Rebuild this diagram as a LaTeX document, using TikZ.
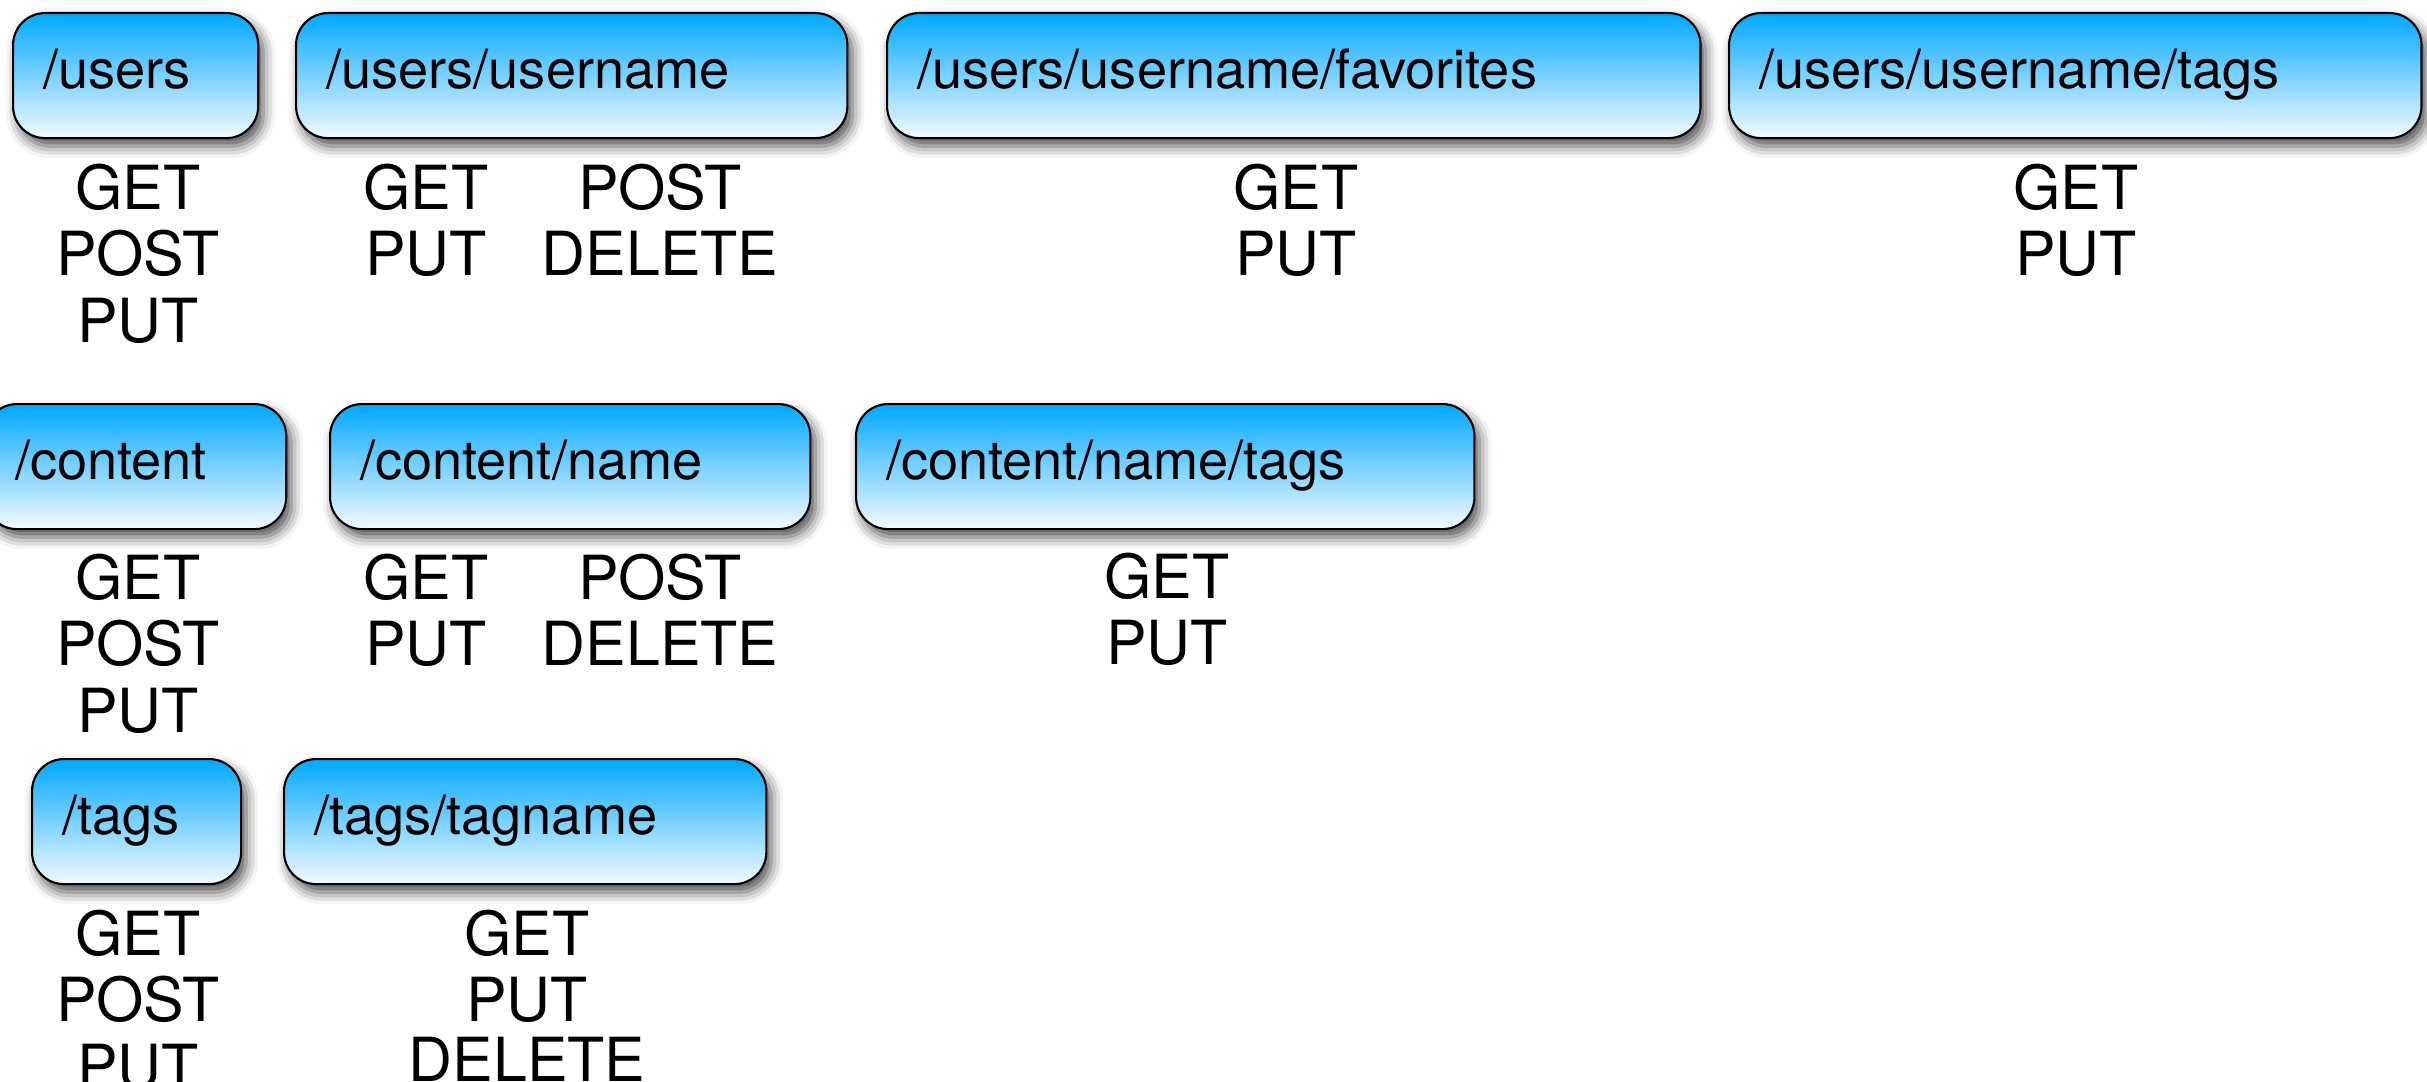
\documentclass[tikz,border=0pt]{standalone}
\usepackage{fontspec}
\setmainfont{TeX Gyre Heros}
\usetikzlibrary{shadows.blur}
\definecolor{boxtop}{RGB}{0,168,255}
\definecolor{boxbot}{RGB}{244,250,255}
\newcommand\pathfont{\fontsize{15.4}{18}\selectfont}
\newcommand\methodfont{\fontsize{17.3}{18.9}\selectfont}

\begin{document}
\begin{tikzpicture}[x=0.01cm, y=-0.01cm]
\tikzset{resource/.style={draw=black, line width=0.6pt, rounded corners=0.32cm,
    top color=boxtop, bottom color=boxbot, anchor=north west,
    inner xsep=0.3cm, inner ysep=0pt, text height=0.75cm, text depth=0.5cm,
    text width=#1, align=left, font=\pathfont,
    blur shadow={shadow xshift=0.05cm, shadow yshift=-0.08cm, shadow blur radius=0.12cm, shadow opacity=70}},
  methods/.style={anchor=north, inner sep=0pt, align=center, font=\methodfont}}
\useasboundingbox (0,0) rectangle (2427,1082);
\node[resource=1.85cm] (users) at (12,12) {/users};
\node[resource=4.91cm] (uname) at (295,12) {/users/username};
\node[resource=7.53cm] (ufav) at (886,12) {/users/username/favorites};
\node[resource=6.32cm] (utags) at (1728,12) {/users/username/tags};
\node[resource=2.41cm] (content) at (-16,403) {/content};
\node[resource=4.20cm] (cname) at (329,403) {/content/name};
\node[resource=5.58cm] (ctags) at (855,403) {/content/name/tags};
\node[resource=1.49cm] (tags) at (31,758) {/tags};
\node[resource=4.22cm] (tname) at (283,758) {/tags/tagname};
\node[methods] (users-m) at (138,163) {GET\\POST\\PUT};
\node[methods] (uname-l) at (426,163) {GET\\PUT};
\node[methods] (uname-r) at (660,163) {POST\\DELETE};
\node[methods] (ufav-m) at (1296,163) {GET\\PUT};
\node[methods] (utags-m) at (2076,163) {GET\\PUT};
\node[methods] (content-m) at (138,553) {GET\\POST\\PUT};
\node[methods] (cname-l) at (426,553) {GET\\PUT};
\node[methods] (cname-r) at (660,553) {POST\\DELETE};
\node[methods] (ctags-m) at (1167,552) {GET\\PUT};
\node[methods] (tags-m) at (138,909) {GET\\POST\\PUT};
\node[methods] (tname-m) at (527,909) {GET\\PUT\\[-2pt]DELETE};
\end{tikzpicture}
\end{document}
